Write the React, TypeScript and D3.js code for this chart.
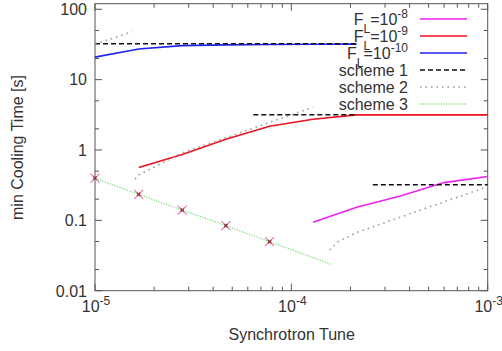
import React, { useEffect, useRef } from "react";
import { select, scaleLog, line } from "d3";

const WIDTH = 502;
const HEIGHT = 351;

// F_L = 1e-8 (magenta)
const tuneFL8 = [1.29e-4, 2.15e-4, 3.59e-4, 5.99e-4, 1e-3];
const timeFL8 = [0.094, 0.153, 0.222, 0.344, 0.419];

// F_L = 1e-9 (red)
const tuneFL9 = [1.67e-5, 2.78e-5, 4.64e-5, 7.74e-5, 1.29e-4, 2.15e-4, 3.59e-4, 5.99e-4, 1e-3];
const timeFL9 = [0.565, 0.865, 1.42, 2.17, 2.74, 3.16, 3.16, 3.16, 3.16];

// F_L = 1e-10 (blue)
const tuneFL10 = [1e-5, 1.67e-5, 2.78e-5, 4.64e-5, 7.74e-5, 1.29e-4, 2.15e-4];
const timeFL10 = [20.9, 27.2, 30.4, 31.2, 31.6, 31.8, 32.0];

// scheme 1: flat segments
const scheme1Start = [1e-5, 6.4e-5, 2.6e-4];
const scheme1End = [2.15e-4, 2.15e-4, 1e-3];
const scheme1Time = [32.3, 3.16, 0.32];

// scheme 2: three dotted pieces
const scheme2TuneA = [1e-5, 1.24e-5, 1.54e-5];
const scheme2TimeA = [32.3, 38.7, 48.3];
const scheme2TuneB = [1.6e-5, 1.67e-5, 2.78e-5, 4.64e-5, 7.74e-5, 1.29e-4];
const scheme2TimeB = [0.385, 0.443, 0.91, 1.49, 2.47, 4.04];
const scheme2TuneC = [1.57e-4, 1.73e-4, 2.15e-4, 3.59e-4, 5.99e-4, 1e-3];
const scheme2TimeC = [0.038, 0.0497, 0.067, 0.111, 0.183, 0.301];

// scheme 3
const scheme3Tune = [1e-5, 1.67e-5, 2.78e-5, 4.64e-5, 7.74e-5, 1.6e-4];
const scheme3Time = [0.397, 0.234, 0.14, 0.084, 0.0497, 0.0237];

// cross markers
const markerTune = [1e-5, 1.67e-5, 2.78e-5, 4.64e-5, 7.74e-5];
const markerTime = [0.397, 0.234, 0.14, 0.084, 0.0497];

// axes
const xMajor = [1e-5, 1e-4, 1e-3];
const xMajorExp = ["-5", "-4", "-3"];
const yMajor = [0.01, 0.1, 1, 10, 100];
const yMajorLabels = ["0.01", "0.1", "1", "10", "100"];

const legendExp = ["-8", "-9", "-10"];
const legendSchemes = ["scheme 1", "scheme 2", "scheme 3"];

const FONT = "'Liberation Sans', Arial, Helvetica, sans-serif";
const TEXT = "#333";

function CoolingTimeChart() {
  const svgRef = useRef<SVGSVGElement>(null);

  useEffect(() => {
    const svg = select(svgRef.current);
    svg.selectAll("*").remove();

    const xScale = scaleLog().domain([1e-5, 1e-3]).range([95, 487.7]);
    const yScale = scaleLog().domain([0.01, 120]).range([290.7, 3.7]);
    const [x0, x1] = xScale.range();
    const [y0, y1] = yScale.range();

    // frame + ticks (mirrored on all sides, pointing inwards)
    const axes = svg.append("g").attr("stroke", "#555").attr("stroke-width", 1);
    axes
      .append("rect")
      .attr("x", x0)
      .attr("y", y1)
      .attr("width", x1 - x0)
      .attr("height", y0 - y1)
      .attr("fill", "none");

    const xMinor = [2, 3, 4, 5, 6, 7, 8, 9].flatMap(m => [m * 1e-5, m * 1e-4]);
    const yMinor = [2, 5].flatMap(m => [0.01, 0.1, 1, 10].map(d => m * d));
    const xTicks = [
      ...xMajor.map(v => ({ v, len: 7 })),
      ...xMinor.map(v => ({ v, len: 4 }))
    ];
    const yTicks = [
      ...yMajor.map(v => ({ v, len: 7 })),
      ...yMinor.map(v => ({ v, len: 4 }))
    ];

    xTicks.forEach(({ v, len }) => {
      const px = xScale(v);
      axes.append("line").attr("x1", px).attr("x2", px).attr("y1", y0).attr("y2", y0 - len);
      axes.append("line").attr("x1", px).attr("x2", px).attr("y1", y1).attr("y2", y1 + len);
    });
    yTicks.forEach(({ v, len }) => {
      const py = yScale(v);
      axes.append("line").attr("x1", x0).attr("x2", x0 + len).attr("y1", py).attr("y2", py);
      axes.append("line").attr("x1", x1).attr("x2", x1 - len).attr("y1", py).attr("y2", py);
    });

    // tick labels
    const labels = svg.append("g").attr("fill", TEXT).attr("font-family", FONT).attr("font-size", 16);
    yMajor.forEach((v, i) => {
      labels
        .append("text")
        .attr("x", 87)
        .attr("y", yScale(v) + 5.8)
        .attr("text-anchor", "end")
        .text(yMajorLabels[i]);
    });
    xMajor.forEach((v, i) => {
      const t = labels
        .append("text")
        .attr("x", xScale(v) + 1)
        .attr("y", 311.7)
        .attr("text-anchor", "middle");
      t.append("tspan").text("10");
      t.append("tspan").attr("dy", -7).attr("font-size", 12).text(xMajorExp[i]);
    });

    // axis titles
    labels
      .append("text")
      .attr("x", 291.7)
      .attr("y", 340)
      .attr("text-anchor", "middle")
      .text("Synchrotron Tune");
    labels
      .append("text")
      .attr("transform", "translate(23, 147.5) rotate(-90)")
      .attr("text-anchor", "middle")
      .text("min Cooling Time [s]");

    // series
    const lineGen = line<[number, number]>()
      .x(d => xScale(d[0]))
      .y(d => yScale(d[1]));
    const zip = (a: number[], b: number[]) => a.map((v, i) => [v, b[i]] as [number, number]);

    const styles = {
      fl8: { stroke: "#ee22ee", dash: null, width: 1.6 },
      fl9: { stroke: "#ee1122", dash: null, width: 1.6 },
      fl10: { stroke: "#2222ee", dash: null, width: 1.6 },
      s1: { stroke: "#111", dash: "5 3", width: 1.5 },
      s2: { stroke: "#999", dash: "1.5 4", width: 1.6 },
      s3: { stroke: "#77e077", dash: "1.2 1.4", width: 1.3 }
    };

    const paths = [
      { data: zip(tuneFL8, timeFL8), ...styles.fl8 },
      { data: zip(tuneFL9, timeFL9), ...styles.fl9 },
      { data: zip(tuneFL10, timeFL10), ...styles.fl10 },
      ...scheme1Time.map((t, i) => ({
        data: [[scheme1Start[i], t], [scheme1End[i], t]] as [number, number][],
        ...styles.s1
      })),
      { data: zip(scheme2TuneA, scheme2TimeA), ...styles.s2 },
      { data: zip(scheme2TuneB, scheme2TimeB), ...styles.s2 },
      { data: zip(scheme2TuneC, scheme2TimeC), ...styles.s2 },
      { data: zip(scheme3Tune, scheme3Time), ...styles.s3 }
    ];

    svg
      .append("g")
      .selectAll("path")
      .data(paths)
      .join("path")
      .attr("d", d => lineGen(d.data))
      .attr("fill", "none")
      .attr("stroke", d => d.stroke)
      .attr("stroke-width", d => d.width)
      .attr("stroke-dasharray", d => d.dash);

    // cross markers
    const markers = svg
      .append("g")
      .selectAll("g")
      .data(zip(markerTune, markerTime))
      .join("g")
      .attr("transform", d => `translate(${xScale(d[0])},${yScale(d[1])})`);
    markers
      .append("path")
      .attr("d", "M-4.5,-4.5L4.5,4.5M-4.5,4.5L4.5,-4.5")
      .attr("stroke", "#e870a8")
      .attr("stroke-width", 1.1);
    markers
      .append("path")
      .attr("d", "M-1.6,-1.6L1.6,1.6M-1.6,1.6L1.6,-1.6")
      .attr("stroke", "#8a3848")
      .attr("stroke-width", 1.4);

    // legend
    const legend = svg.append("g").attr("font-family", FONT).attr("font-size", 16).attr("fill", TEXT);
    const legendStyles = [styles.fl8, styles.fl9, styles.fl10, styles.s1, styles.s2, styles.s3];
    legendStyles.forEach((s, i) => {
      const rowY = 19 + i * 17;
      legend
        .append("line")
        .attr("x1", 420)
        .attr("x2", 467)
        .attr("y1", rowY)
        .attr("y2", rowY)
        .attr("stroke", s.stroke)
        .attr("stroke-width", s.width)
        .attr("stroke-dasharray", s.dash);
      const t = legend
        .append("text")
        .attr("x", 408)
        .attr("y", rowY + 6)
        .attr("text-anchor", "end");
      if (i < 3) {
        t.append("tspan").text("F");
        t.append("tspan").attr("dy", 8).attr("font-size", 12).text("L");
        t.append("tspan").attr("dy", -8).text("=10");
        t.append("tspan").attr("dy", -7).attr("font-size", 12).text(legendExp[i]);
      } else {
        t.text(legendSchemes[i - 3]);
      }
    });
  }, []);

  return (
    <svg
      ref={svgRef}
      width={WIDTH}
      height={HEIGHT}
      style={{ position: "absolute", left: 0, top: 0, background: "#fff" }}
    />
  );
}

export default function App() {
  return <CoolingTimeChart />;
}
